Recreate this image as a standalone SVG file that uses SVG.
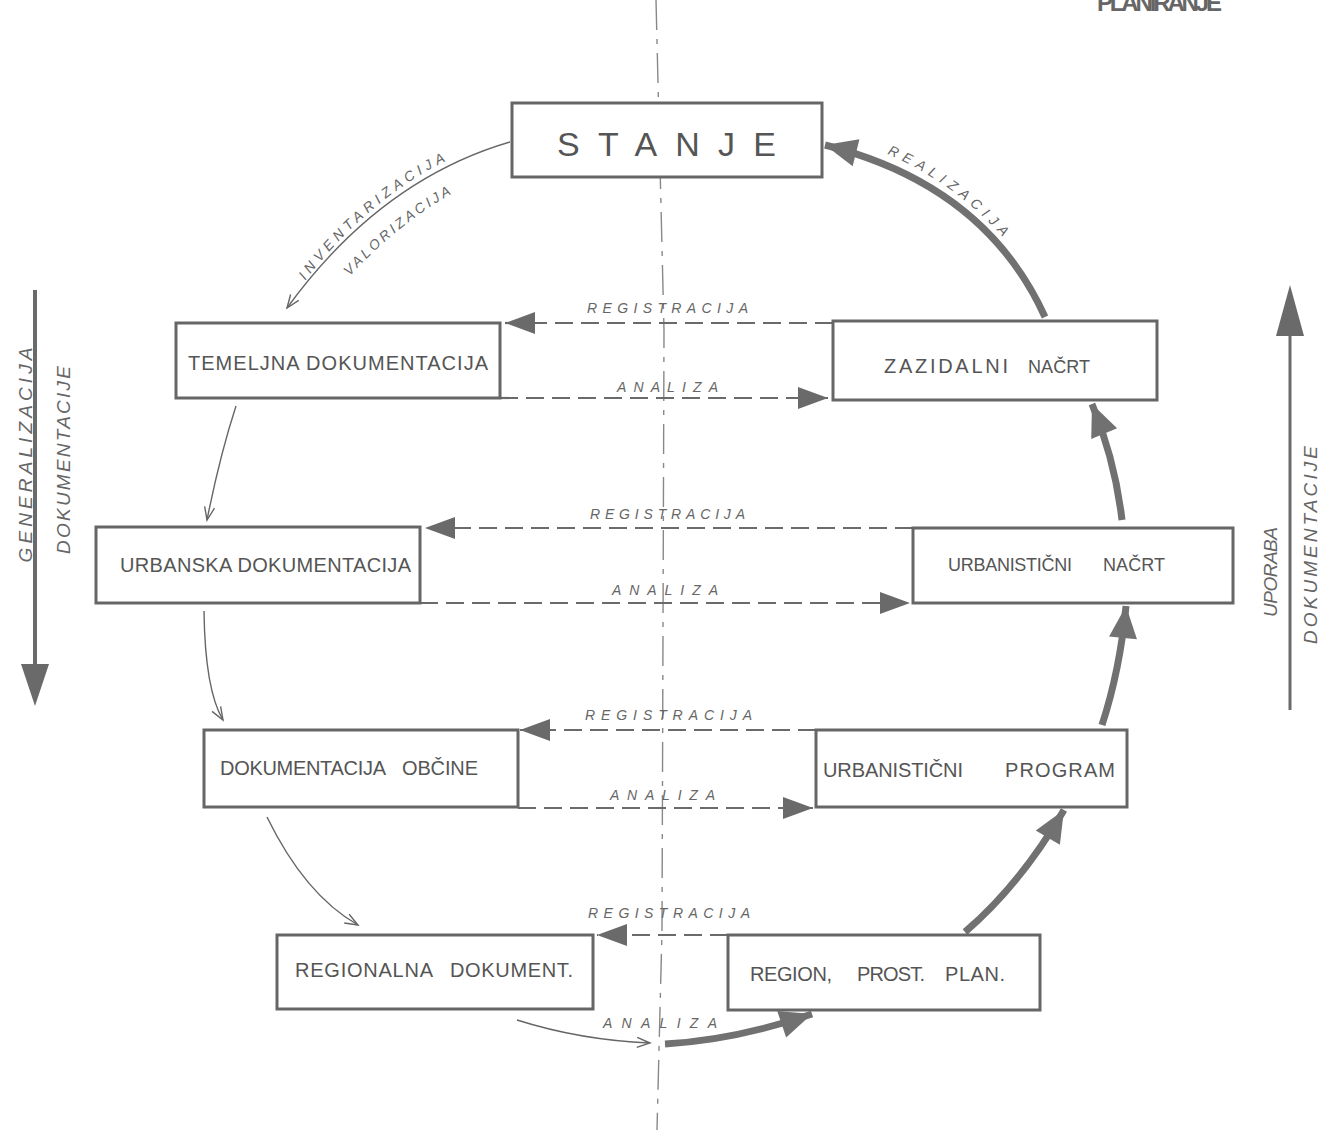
<svg xmlns="http://www.w3.org/2000/svg" width="1321" height="1130" viewBox="0 0 1321 1130">
<style>
.box{fill:#fff;stroke:#666;stroke-width:3}
.lbl{font-family:"Liberation Sans",Arial,sans-serif;font-size:20px;fill:#555}
.it{font-family:"Liberation Sans",Arial,sans-serif;font-style:italic;font-size:14px;fill:#666}
.side{font-family:"Liberation Sans",Arial,sans-serif;font-style:italic;font-size:19px;fill:#666}
.thin{fill:none;stroke:#666;stroke-width:1.4;marker-end:url(#open)}
.thick{fill:none;stroke:#717171;stroke-width:7;marker-end:url(#big)}
.dash{fill:none;stroke:#6a6a6a;stroke-width:2.2;stroke-dasharray:18 8;marker-end:url(#tri)}
.axis{fill:none;stroke:#888;stroke-width:1.4;stroke-dasharray:30 9 5 9}
</style>
<defs>
<marker id="open" markerUnits="userSpaceOnUse" markerWidth="16" markerHeight="14" viewBox="-14 -7 16 14" refX="0" refY="0" orient="auto">
<path d="M-13,-5 L0,0 L-13,5" fill="none" stroke="#666" stroke-width="1.4"/>
</marker>
<marker id="big" markerUnits="userSpaceOnUse" markerWidth="36" markerHeight="32" viewBox="-34 -16 36 32" refX="0" refY="0" orient="auto">
<path d="M-32,-14 L0,0 L-32,14 Z" fill="#717171"/>
</marker>
<marker id="tri" markerUnits="userSpaceOnUse" markerWidth="34" markerHeight="26" viewBox="-32 -13 34 26" refX="0" refY="0" orient="auto">
<path d="M-30,-11 L0,0 L-30,11 Z" fill="#6a6a6a"/>
</marker>
<path id="pInv" d="M290 302 Q 376 176 508 136"/>
<path id="pVal" d="M308 328 Q 398 202 524 162"/>
<path id="pRea" d="M836 136 Q 988 178 1056 318"/>
</defs>

<rect width="1321" height="1130" fill="#fff"/>

<text x="1097" y="11" font-family="'Liberation Sans',Arial,sans-serif" font-size="24" font-weight="bold" fill="#666" textLength="125" lengthAdjust="spacing">PLANIRANJE</text>

<path class="axis" d="M656 0 L664 330 L662 930 L657 1130"/>

<g id="side-left">
<path d="M35 290 L35 668" stroke="#6a6a6a" stroke-width="4"/>
<path d="M21 664 L49 664 L35 706 Z" fill="#6a6a6a"/>
<text class="side" transform="translate(32,455) rotate(-90)" text-anchor="middle" textLength="215" lengthAdjust="spacing">GENERALIZACIJA</text>
<text class="side" transform="translate(70,460) rotate(-90)" text-anchor="middle" textLength="188" lengthAdjust="spacing">DOKUMENTACIJE</text>
</g>

<g id="side-right">
<path d="M1290 710 L1290 330" stroke="#6a6a6a" stroke-width="3"/>
<path d="M1276 336 L1304 336 L1290 285 Z" fill="#6a6a6a"/>
<text class="side" transform="translate(1277,572) rotate(-90)" text-anchor="middle" textLength="90" lengthAdjust="spacing">UPORABA</text>
<text class="side" transform="translate(1317,545) rotate(-90)" text-anchor="middle" textLength="198" lengthAdjust="spacing">DOKUMENTACIJE</text>
</g>

<g id="connectors">
<path class="thin" d="M510 142 Q 380 180 287 308"/>
<path class="thin" d="M236 406 Q 220 455 207 520"/>
<path class="thin" d="M204 611 Q 205 690 223 720"/>
<path class="thin" d="M267 817 Q 305 895 358 925"/>
<path class="thin" d="M517 1020 Q 580 1040 650 1043"/>

<path class="thick" d="M665 1044 Q 735 1040 812 1014"/>
<path class="thick" d="M965 932 Q 1020 885 1064 810"/>
<path class="thick" d="M1102 725 Q 1120 670 1126 606"/>
<path class="thick" d="M1122 520 Q 1115 460 1092 404"/>
<path class="thick" d="M1045 317 Q 985 185 825 145"/>

<path class="dash" d="M833 323 L505 323"/>
<path class="dash" d="M500 398 L828 398"/>
<path class="dash" d="M913 528 L425 528"/>
<path class="dash" d="M420 603 L910 603"/>
<path class="dash" d="M816 730 L520 730"/>
<path class="dash" d="M518 808 L813 808"/>
<path class="dash" d="M728 935 L597 935"/>

<text class="it" font-size="13" letter-spacing="4.6"><textPath href="#pInv" startOffset="26">INVENTARIZACIJA</textPath></text>
<text class="it" font-size="13" letter-spacing="3"><textPath href="#pVal" startOffset="66">VALORIZACIJA</textPath></text>
<text class="it" letter-spacing="5.5"><textPath href="#pRea" startOffset="54">REALIZACIJA</textPath></text>

<text class="it" x="587" y="313" textLength="161" lengthAdjust="spacing">REGISTRACIJA</text>
<text class="it" x="617" y="392" textLength="101" lengthAdjust="spacing">ANALIZA</text>
<text class="it" x="590" y="519" textLength="155" lengthAdjust="spacing">REGISTRACIJA</text>
<text class="it" x="612" y="595" textLength="106" lengthAdjust="spacing">ANALIZA</text>
<text class="it" x="585" y="720" textLength="167" lengthAdjust="spacing">REGISTRACIJA</text>
<text class="it" x="610" y="800" textLength="105" lengthAdjust="spacing">ANALIZA</text>
<text class="it" x="588" y="918" textLength="162" lengthAdjust="spacing">REGISTRACIJA</text>
<text class="it" x="603" y="1028" textLength="114" lengthAdjust="spacing">ANALIZA</text>
</g>

<g id="stanje">
<rect class="box" x="512" y="103" width="310" height="74"/>
<text class="lbl" x="557" y="156" style="font-size:34px" textLength="219" lengthAdjust="spacing">STANJE</text>
</g>
<g id="temeljna">
<rect class="box" x="176" y="323" width="324" height="75"/>
<text class="lbl" x="188" y="370" textLength="300" lengthAdjust="spacing">TEMELJNA DOKUMENTACIJA</text>
</g>
<g id="zazidalni">
<rect class="box" x="833" y="321" width="324" height="79"/>
<text class="lbl" x="884" y="373" textLength="124" lengthAdjust="spacing">ZAZIDALNI</text>
<text class="lbl" x="1028" y="373" style="font-size:18px" textLength="62" lengthAdjust="spacing">NAČRT</text>
</g>
<g id="urbanska">
<rect class="box" x="96" y="527" width="324" height="76"/>
<text class="lbl" x="120" y="572" textLength="291" lengthAdjust="spacing">URBANSKA DOKUMENTACIJA</text>
</g>
<g id="urb-nacrt">
<rect class="box" x="913" y="528" width="320" height="75"/>
<text class="lbl" x="948" y="571" style="font-size:18px" textLength="124" lengthAdjust="spacing">URBANISTIČNI</text>
<text class="lbl" x="1103" y="571" style="font-size:18px" textLength="62" lengthAdjust="spacing">NAČRT</text>
</g>
<g id="obcine">
<rect class="box" x="204" y="730" width="314" height="77"/>
<text class="lbl" x="220" y="775" textLength="166" lengthAdjust="spacing">DOKUMENTACIJA</text>
<text class="lbl" x="402" y="775" textLength="76" lengthAdjust="spacing">OBČINE</text>
</g>
<g id="urb-program">
<rect class="box" x="816" y="730" width="311" height="77"/>
<text class="lbl" x="823" y="777" textLength="140" lengthAdjust="spacing">URBANISTIČNI</text>
<text class="lbl" x="1005" y="777" textLength="110" lengthAdjust="spacing">PROGRAM</text>
</g>
<g id="regionalna">
<rect class="box" x="277" y="935" width="316" height="74"/>
<text class="lbl" x="295" y="977" textLength="138" lengthAdjust="spacing">REGIONALNA</text>
<text class="lbl" x="450" y="977" textLength="123" lengthAdjust="spacing">DOKUMENT.</text>
</g>
<g id="region-plan">
<rect class="box" x="728" y="935" width="312" height="75"/>
<text class="lbl" x="750" y="981" textLength="82" lengthAdjust="spacing">REGION,</text>
<text class="lbl" x="857" y="981" textLength="68" lengthAdjust="spacing">PROST.</text>
<text class="lbl" x="945" y="981" textLength="60" lengthAdjust="spacing">PLAN.</text>
</g>
</svg>
